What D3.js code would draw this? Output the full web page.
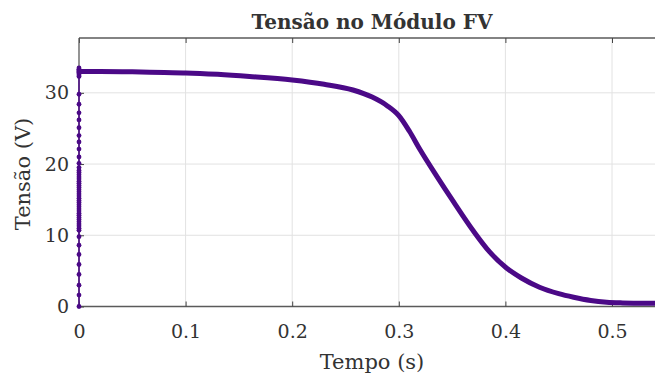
<!DOCTYPE html>
<html>
<head>
<meta charset="utf-8">
<script src="https://cdn.jsdelivr.net/npm/d3@7"></script>
<style>
  body { margin: 0; background: #fff; }
  svg { display: block; }
  text { font-family: "DejaVu Serif", serif; fill: #333; }
</style>
</head>
<body>
<div id="chart"></div>
<script>
// voltage samples at t = 0 (start-up transient)
var startV = [0, 1.6, 3.0, 4.5, 5.9, 7.3, 8.6, 9.8,
  10.7, 11.0, 11.3, 11.6, 11.9, 12.2, 12.5, 12.8, 13.1, 13.4, 13.7, 14.0, 14.3, 14.6,
  14.9, 15.2, 15.5, 15.8, 16.1, 16.4, 16.7, 17.0, 17.3, 17.6, 17.9, 18.2, 18.5, 18.8, 19.1, 19.5,
  20.1, 21.0, 22.1, 23.1, 24.0, 25.1, 26.2, 27.2, 28.4, 29.8,
  32.3, 32.5, 32.7, 32.9, 33.1, 33.3, 33.5, 33.2, 33.0]

// main curve
var tempo = [0, 0.02, 0.05, 0.08, 0.1, 0.13, 0.16, 0.2, 0.23, 0.257, 0.275, 0.289, 0.3,
  0.31, 0.32, 0.336, 0.35, 0.37, 0.385, 0.401, 0.415, 0.432, 0.45, 0.464, 0.48, 0.495,
  0.51, 0.53, 0.56]
var tensao = [33.0, 33.0, 32.95, 32.85, 32.8, 32.6, 32.3, 31.8, 31.2, 30.4, 29.4, 28.2, 26.8,
  24.6, 22.0, 18.2, 15.0, 10.6, 7.7, 5.4, 4.0, 2.7, 1.8, 1.3, 0.85, 0.6,
  0.5, 0.45, 0.45]

var xTicks = [0, 0.1, 0.2, 0.3, 0.4, 0.5]
var yTicks = [0, 10, 20, 30]

var w = 655, h = 376
var color = '#4b0987'

var svg = d3.select('#chart').append('svg')
  .attr('width', w)
  .attr('height', h)

var x = d3.scaleLinear().domain([0, 0.6]).range([79, 718.6])
var y = d3.scaleLinear().domain([0, 37.7]).range([306.5, 38])

var plotTop = y(37.7), plotBottom = y(0), plotLeft = x(0)

// grid
svg.append('g').selectAll('line').data(xTicks.slice(1)).enter().append('line')
  .attr('x1', d => x(d)).attr('x2', d => x(d))
  .attr('y1', plotTop).attr('y2', plotBottom)
  .attr('stroke', '#e2e2e2').attr('stroke-width', 1)
svg.append('g').selectAll('line').data(yTicks.slice(1)).enter().append('line')
  .attr('x1', plotLeft).attr('x2', w)
  .attr('y1', d => y(d)).attr('y2', d => y(d))
  .attr('stroke', '#e2e2e2').attr('stroke-width', 1)

// axes
var xAxis = d3.axisBottom(x).tickValues(xTicks).tickSize(-5).tickPadding(18)
  .tickFormat(d => d === 0 ? '0' : d3.format('.1f')(d))
var gx = svg.append('g').attr('transform', 'translate(0,' + plotBottom + ')').call(xAxis)

var xTop = d3.axisTop(x).tickValues(xTicks).tickSize(-5).tickFormat('')
var gt = svg.append('g').attr('transform', 'translate(0,' + plotTop + ')').call(xTop)

var yAxis = d3.axisLeft(y).tickValues(yTicks).tickSize(-5).tickPadding(10)
var gy = svg.append('g').attr('transform', 'translate(' + plotLeft + ',0)').call(yAxis)

;[gx, gt, gy].forEach(function(g) {
  g.select('.domain').attr('stroke', '#5a5a5a').attr('stroke-width', 1.3)
  g.selectAll('.tick line').attr('stroke', '#444')
  g.selectAll('.tick text').style('font-size', '19px').attr('fill', '#333')
})
gx.select('.domain').attr('d', 'M' + plotLeft + ',0H' + w)
gt.select('.domain').attr('d', 'M' + plotLeft + ',0H' + w)
gy.select('.domain').attr('d', 'M0,' + plotBottom + 'V' + plotTop)

// start-up dots at t = 0
svg.append('line')
  .attr('x1', x(0)).attr('x2', x(0))
  .attr('y1', y(d3.min(startV))).attr('y2', y(d3.max(startV)))
  .attr('stroke', color).attr('stroke-width', 1.5)
svg.append('g').selectAll('circle').data(startV).enter().append('circle')
  .attr('cx', x(0)).attr('cy', d => y(d)).attr('r', 2.4)
  .attr('fill', color)

// main curve
var pts = tempo.map((t, i) => [t, tensao[i]])
var line = d3.line()
  .x(d => x(d[0]))
  .y(d => y(d[1]))
  .curve(d3.curveMonotoneX)

svg.append('path')
  .datum(pts)
  .attr('d', line)
  .attr('fill', 'none')
  .attr('stroke', color)
  .attr('stroke-width', 5)
  .attr('stroke-linejoin', 'round')

// titles
svg.append('text')
  .attr('x', 372).attr('y', 29)
  .attr('text-anchor', 'middle')
  .style('font-size', '20px').style('font-weight', 'bold')
  .attr('fill', '#222')
  .text('Tensão no Módulo FV')

svg.append('text')
  .attr('x', 372).attr('y', 369)
  .attr('text-anchor', 'middle')
  .style('font-size', '21px')
  .text('Tempo (s)')

svg.append('text')
  .attr('transform', 'translate(30,174) rotate(-90)')
  .attr('text-anchor', 'middle')
  .style('font-size', '21px')
  .text('Tensão (V)')
</script>
</body>
</html>
